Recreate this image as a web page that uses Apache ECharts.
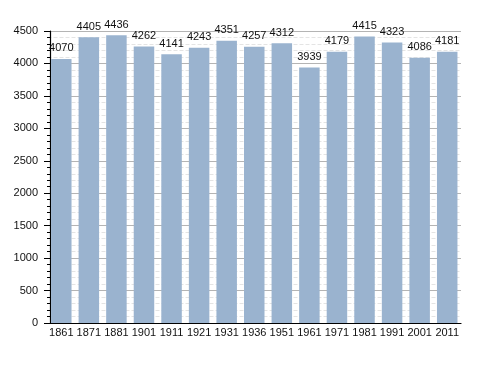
<!DOCTYPE html>
<html>
<head>
<meta charset="utf-8">
<script src="https://cdn.jsdelivr.net/npm/echarts@6/dist/echarts.min.js"></script>
<style>html,body{margin:0;padding:0;background:#fff;}#c{width:488px;height:373px;}</style>
</head>
<body>
<div id="c"></div>
<script>
const years = ['1861','1871','1881','1901','1911','1921','1931','1936','1951','1961','1971','1981','1991','2001','2011'];
const population = [4070,4405,4436,4262,4141,4243,4351,4257,4312,3939,4179,4415,4323,4086,4181];
const yMin = 0, yMax = 4500, yStep = 500;

const chart = echarts.init(document.getElementById('c'), null, {renderer:'canvas'});
chart.setOption({
  animation: false,
  backgroundColor: '#ffffff',
  textStyle: {fontFamily: 'Liberation Sans, Arial, sans-serif'},
  grid: {left: 47.5, right: 27, top: 31, bottom: 50, containLabel: false},
  xAxis: {
    type: 'category',
    data: years,
    boundaryGap: true,
    axisLine: {lineStyle: {color: '#000', width: 1.2}},
    axisTick: {show: false},
    axisLabel: {color: '#111', fontSize: 11, margin: 4, interval: 0}
  },
  yAxis: {
    type: 'value',
    min: yMin, max: yMax, interval: yStep,
    offset: -2.5,
    axisLine: {show: true, lineStyle: {color: '#000', width: 1.2}},
    axisTick: {show: true, length: 6, lineStyle: {color: '#000'}},
    minorTick: {show: true, splitNumber: 5, length: 3, lineStyle: {color: '#000'}},
    axisLabel: {color: '#111', fontSize: 11, margin: 12, formatter: v => String(v)},
    splitLine: {show: true, lineStyle: {color: '#b4b4b4', width: 1}},
    minorSplitLine: {show: true, lineStyle: {color: '#e4e4e4', type: 'dashed', width: 1}}
  },
  series: [{
    type: 'bar',
    data: population,
    barWidth: 20.5,
    itemStyle: {color: '#9ab3cf'},
    label: {show: true, position: 'top', distance: 5, color: '#111', fontSize: 11}
  }]
});
</script>
</body>
</html>
